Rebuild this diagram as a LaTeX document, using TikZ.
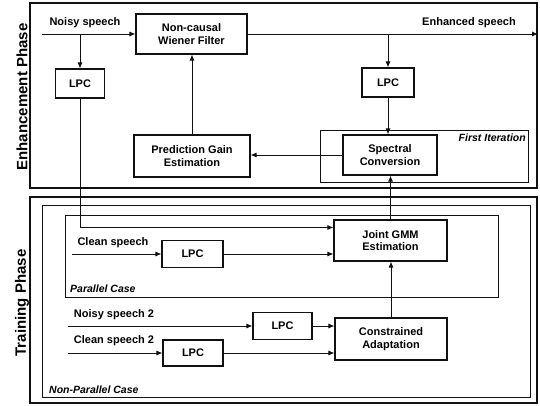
\documentclass[tikz,border=0pt]{standalone}
\usepackage{fontspec}
\setmainfont{Liberation Sans}
\usetikzlibrary{arrows.meta,positioning,calc}
\definecolor{ink}{HTML}{111111}
\tikzset{
  blk/.style={draw=ink,fill=white,line width=1.1pt,align=center,
              inner sep=2pt,font=\bfseries\fontsize{11}{12.5}\selectfont},
  phase/.style={draw=ink,line width=1.8pt},
  casebox/.style={draw=ink,line width=0.7pt},
  arr/.style={-{Latex[length=6pt,width=5pt]},line width=0.9pt,draw=ink},
  lbl/.style={font=\bfseries\fontsize{11}{12}\selectfont,inner sep=0pt},
  caselbl/.style={font=\bfseries\itshape\fontsize{10.5}{12}\selectfont,
                  inner sep=0pt},
  side/.style={font=\bfseries\fontsize{15}{16}\selectfont,rotate=90,
               inner sep=0pt}
}

\begin{document}
\begin{tikzpicture}[x=1pt,y=-1pt]
    \path[use as bounding box,fill=white] (0,0) rectangle (540,406);

    % frames
    \draw[phase] (30,3) rectangle (537,188);
    \draw[phase] (30,197) rectangle (537,403);
    \draw[casebox] (42,205) rectangle (530,397);
    \draw[casebox] (65,215) rectangle (498,297);
    \draw[casebox] (320,130) rectangle (528,182);

    \node[side] (enh) at (22,97) {Enhancement Phase};
    \node[side] (trn) at (22,303) {Training Phase};

    % enhancement blocks
    \node[blk,minimum width=111pt,minimum height=40pt] (wiener) at (191.5,34)
      {Non-causal\\Wiener Filter};
    \node[blk,minimum width=49pt,minimum height=29pt] (lpcA) at (80,83.5) {LPC};
    \node[blk,minimum width=116pt,minimum height=42pt] (gain) at (192,156)
      {Prediction Gain\\Estimation};
    \node[blk,minimum width=52pt,minimum height=29pt] (lpcB) at (388,82.5) {LPC};
    \node[blk,minimum width=94pt,minimum height=40pt] (spec) at (390,155)
      {Spectral\\Conversion};

    % training blocks
    \node[blk,minimum width=113pt,minimum height=41pt] (gmm) at (390.5,240.5)
      {Joint GMM\\Estimation};
    \node[blk,minimum width=61pt,minimum height=27pt] (lpcC) at (192.5,254) {LPC};
    \node[blk,minimum width=112pt,minimum height=42pt] (adapt) at (391,339)
      {Constrained\\Adaptation};
    \node[blk,minimum width=59pt,minimum height=27pt] (lpcD) at (282.5,326) {LPC};
    \node[blk,minimum width=60pt,minimum height=26pt] (lpcE) at (193,353) {LPC};

    % free ends
    \coordinate (nsin) at (42,34);
    \coordinate (enhout) at (538,34);
    \coordinate (csin) at (72,254);
    \coordinate (n2in) at (68,326);
    \coordinate (c2in) at (68,353);

    \node[lbl] (nslab) at (85,23) {Noisy speech};
    \node[lbl] (enlab) at (469,23) {Enhanced speech};
    \node[lbl] (cslab) at (113,243) {Clean speech};
    \node[lbl] (n2lab) at (114,315) {Noisy speech 2};
    \node[lbl] (c2lab) at (114,341) {Clean speech 2};
    \node[caselbl,anchor=west] (parlab) at (70,289) {Parallel Case};
    \node[caselbl,anchor=west] (nplab) at (49,390) {Non-Parallel Case};
    \node[caselbl,anchor=east] (itlab) at (526,138) {First Iteration};

    % connectors
    \draw[arr] (nsin) -- (wiener.west);
    \draw[arr] (lpcA.north |- nsin) -- (lpcA.north);
    \draw[arr] (wiener.east) -- (enhout);
    \draw[arr] (lpcB.north |- enhout) -- (lpcB.north);
    \draw[arr] (lpcB.south) -- (lpcB.south |- spec.north);
    \draw[arr] (spec.west) -- (spec.west -| gain.east);
    \draw[arr] (gain.north) -- (gain.north |- wiener.south);
    \draw[arr] (lpcA.south) |- ([yshift=13pt]gmm.west);
    \draw[arr] (csin) -- (lpcC.west);
    \draw[arr] (lpcC.east) -- (lpcC.east -| gmm.west);
    \draw[arr] (gmm.north) -- (gmm.north |- spec.south);
    \draw[arr] (adapt.north) -- (adapt.north |- gmm.south);
    \draw[arr] (n2in) -- (lpcD.west);
    \draw[arr] (lpcD.east) -- (lpcD.east -| adapt.west);
    \draw[arr] (c2in) -- (lpcE.west);
    \draw[arr] (lpcE.east) -- (lpcE.east -| adapt.west);
  \end{tikzpicture}
\end{document}
